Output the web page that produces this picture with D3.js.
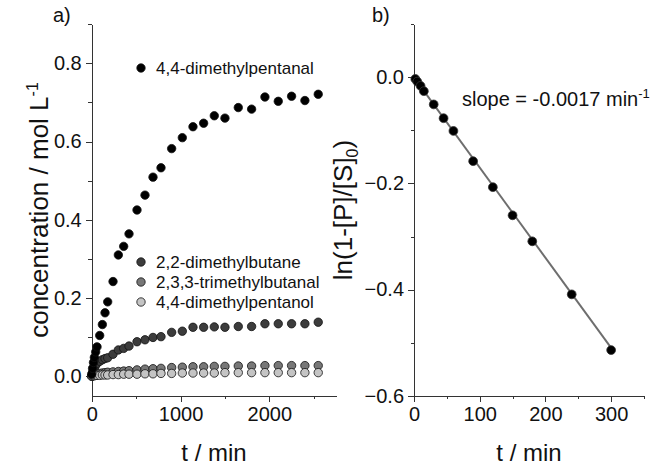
<!DOCTYPE html>
<html>
<head>
<meta charset="utf-8">
<script src="https://cdn.jsdelivr.net/npm/d3@7"></script>
<style>
body { margin: 0; background: #fff; }
text { font-family: "Liberation Sans", Arial, sans-serif; fill: #111; }
.axis path, .axis line { stroke: #333; shape-rendering: crispEdges; }
</style>
</head>
<body>
<div id="chart"></div>
<script>
//DATA - PANEL A (time in min, concentration in mol/L)
var timeA = [0, 10, 20, 30, 45, 60, 90, 120, 150, 180, 240, 300, 360, 420, 510, 600, 690, 780,
  900, 1020, 1140, 1260, 1380, 1500, 1650, 1800, 1950, 2100, 2250, 2400, 2550];
var dimethylpentanal = [0.005, 0.02, 0.035, 0.048, 0.062, 0.075, 0.104, 0.132, 0.162, 0.19, 0.242, 0.31, 0.332, 0.364, 0.425, 0.463, 0.509, 0.533,
  0.582, 0.61, 0.638, 0.647, 0.666, 0.66, 0.687, 0.683, 0.714, 0.703, 0.716, 0.705, 0.721];
var dimethylbutane = [0, 0.01, 0.016, 0.022, 0.028, 0.033, 0.038, 0.042, 0.045, 0.047, 0.056, 0.067, 0.071, 0.077, 0.088, 0.093, 0.099, 0.101,
  0.112, 0.115, 0.125, 0.125, 0.126, 0.125, 0.127, 0.127, 0.134, 0.134, 0.134, 0.134, 0.138];
var trimethylbutanal = [0, 0.002, 0.003, 0.004, 0.005, 0.006, 0.007, 0.008, 0.009, 0.01, 0.011, 0.012, 0.013, 0.014, 0.016, 0.018, 0.019, 0.02,
  0.022, 0.023, 0.024, 0.024, 0.025, 0.025, 0.026, 0.026, 0.027, 0.027, 0.027, 0.027, 0.027];
var dimethylpentanol = [0, 0.001, 0.001, 0.001, 0.002, 0.002, 0.002, 0.003, 0.003, 0.003, 0.004, 0.004, 0.005, 0.005, 0.005, 0.006, 0.006, 0.007,
  0.007, 0.008, 0.008, 0.008, 0.008, 0.009, 0.009, 0.009, 0.009, 0.009, 0.009, 0.009, 0.009];

//DATA - PANEL B (ln(1-[P]/[S]0) vs time)
var timeB = [2, 5, 10, 15, 30, 45, 60, 90, 120, 150, 180, 240, 300];
var lnRatio = [-0.003, -0.008, -0.016, -0.026, -0.051, -0.077, -0.101, -0.158, -0.207, -0.26, -0.309, -0.409, -0.514];
var fitT = [0, 300];
var fitY = [0, -0.51];

//TICKS
var aXMajor = [0, 1000, 2000], aXMinor = [500, 1500, 2500];
var aYMajor = [0, 0.2, 0.4, 0.6, 0.8], aYMinor = [0.1, 0.3, 0.5, 0.7, 0.9];
var bXMajor = [0, 100, 200, 300], bXMinor = [50, 150, 250, 350];
var bYMajor = [0, -0.2, -0.4, -0.6], bYMinor = [0.1, -0.1, -0.3, -0.5];

var series = [
  {name: "2,2-dimethylbutane", values: dimethylbutane, fill: "#3c3c3c"},
  {name: "2,3,3-trimethylbutanal", values: trimethylbutanal, fill: "#777"},
  {name: "4,4-dimethylpentanol", values: dimethylpentanol, fill: "#c4c4c4"},
  {name: "4,4-dimethylpentanal", values: dimethylpentanal, fill: "#000"}
];

var svg = d3.select("#chart").append("svg")
  .attr("width", 655)
  .attr("height", 466);

//SCALES
var xA = d3.scaleLinear().domain([0, 2750]).range([91.7, 336]);
var yA = d3.scaleLinear().domain([-0.05, 0.9]).range([395.7, 24.3]);
var xB = d3.scaleLinear().domain([0, 350]).range([414, 644]);
var yB = d3.scaleLinear().domain([-0.6, 0.1]).range([395.7, 24.3]);

//AXIS HELPER: major ticks with labels + unlabelled minor ticks
function drawAxis(axisFn, scale, major, minor, fmt, transform) {
  var g = svg.append("g").attr("class", "axis").attr("transform", transform);
  g.call(axisFn(scale).tickValues(major).tickFormat(fmt).tickSize(6).tickSizeOuter(0).tickPadding(4));
  g.append("g").call(axisFn(scale).tickValues(minor).tickFormat("").tickSize(3.5).tickSizeOuter(0))
    .select(".domain").remove();
  g.selectAll("text").attr("font-size", 20).attr("fill", "#111")
    .style("font-family", '"Liberation Sans", Arial, sans-serif');
  return g;
}

var gxA = drawAxis(d3.axisBottom, xA, aXMajor, aXMinor, d3.format("d"), "translate(0,395.7)");
gxA.selectAll(".tick text").attr("y", 11);
drawAxis(d3.axisLeft, yA, aYMajor, aYMinor, d3.format(".1f"), "translate(91.7,0)");
var gxB = drawAxis(d3.axisBottom, xB, bXMajor, bXMinor, d3.format("d"), "translate(0,395.7)");
gxB.selectAll(".tick text").attr("y", 11);
drawAxis(d3.axisLeft, yB, bYMajor, bYMinor, d3.format(".1f"), "translate(414,0)");

//PANEL A POINTS
series.forEach(function(s) {
  svg.append("g").selectAll("circle")
    .data(s.values)
    .enter().append("circle")
    .attr("cx", function(d, i) { return xA(timeA[i]); })
    .attr("cy", function(d) { return yA(d); })
    .attr("r", 4.2)
    .attr("fill", s.fill)
    .attr("stroke", "#111")
    .attr("stroke-width", 0.8);
});

//LEGEND
var legendRows = [
  {s: series[3], y: 68},
  {s: series[0], y: 262},
  {s: series[1], y: 282},
  {s: series[2], y: 302}
];
legendRows.forEach(function(r) {
  svg.append("circle").attr("cx", 141).attr("cy", r.y).attr("r", 4.2)
    .attr("fill", r.s.fill).attr("stroke", "#111").attr("stroke-width", 0.8);
  svg.append("text").attr("x", 156).attr("y", r.y).attr("dy", "0.35em")
    .attr("font-size", 17).text(r.s.name);
});

//PANEL B FIT LINE AND POINTS
svg.append("line")
  .attr("x1", xB(fitT[0])).attr("y1", yB(fitY[0]))
  .attr("x2", xB(fitT[1])).attr("y2", yB(fitY[1]))
  .attr("stroke", "#6e6e6e").attr("stroke-width", 2);

svg.append("g").selectAll("circle")
  .data(lnRatio)
  .enter().append("circle")
  .attr("cx", function(d, i) { return xB(timeB[i]); })
  .attr("cy", function(d) { return yB(d); })
  .attr("r", 4.4)
  .attr("fill", "#000")
  .attr("stroke", "#333")
  .attr("stroke-width", 0.8);

//SLOPE ANNOTATION
var slopeText = svg.append("text").attr("x", 462).attr("y", 106).attr("font-size", 20);
slopeText.append("tspan").text("slope = -0.0017 min");
slopeText.append("tspan").attr("dy", -8).attr("font-size", 13).text("-1");

//AXIS TITLES
svg.append("text").attr("x", 214).attr("y", 461).attr("text-anchor", "middle")
  .attr("font-size", 24).text("t / min");
svg.append("text").attr("x", 529).attr("y", 461).attr("text-anchor", "middle")
  .attr("font-size", 24).text("t / min");

var yTitleA = svg.append("text")
  .attr("transform", "translate(48,210) rotate(-90)")
  .attr("text-anchor", "middle").attr("font-size", 26);
yTitleA.append("tspan").text("concentration / mol L");
yTitleA.append("tspan").attr("dy", -10).attr("font-size", 16).text("-1");

var yTitleB = svg.append("text")
  .attr("transform", "translate(352,210) rotate(-90)")
  .attr("text-anchor", "middle").attr("font-size", 26);
yTitleB.append("tspan").text("ln(1-[P]/[S]");
yTitleB.append("tspan").attr("dy", 6).attr("font-size", 16).text("0");
yTitleB.append("tspan").attr("dy", -6).text(")");

//PANEL LABELS
svg.append("text").attr("x", 53).attr("y", 22).attr("font-size", 20).text("a)");
svg.append("text").attr("x", 372).attr("y", 22).attr("font-size", 20).text("b)");
</script>
</body>
</html>
